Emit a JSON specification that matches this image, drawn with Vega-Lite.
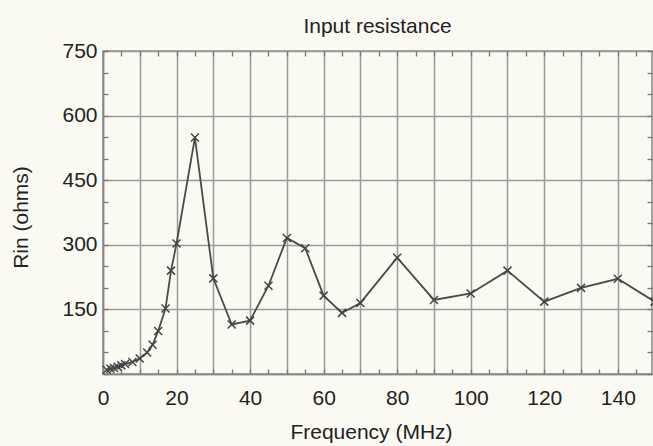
{
  "$schema": "https://vega.github.io/schema/vega-lite/v6.json",
  "width": 549,
  "height": 323,
  "autosize": {"type": "none"},
  "padding": {"left": 103, "top": 51, "right": 1, "bottom": 72},
  "background": "#fafaf2",
  "title": {"text": "Input resistance", "fontSize": 21, "font": "Liberation Sans", "fontWeight": "normal", "color": "#222222", "offset": 3, "dx": 0},
  "config": {
    "view": {"stroke": "#888888", "strokeWidth": 1.5},
    "axis": {"labelFont": "Liberation Sans", "titleFont": "Liberation Sans", "labelFontSize": 21, "titleFontSize": 21, "titleFontWeight": "normal", "labelColor": "#222222", "titleColor": "#222222", "domainColor": "#888888", "domainWidth": 1.5, "tickColor": "#777777", "tickWidth": 1.3}
  },
  "data": {"values": [
    {"f": 1, "r": 10}, {"f": 2, "r": 12}, {"f": 3, "r": 14}, {"f": 4, "r": 17}, {"f": 5, "r": 20},
    {"f": 6, "r": 23}, {"f": 8, "r": 28}, {"f": 10, "r": 36}, {"f": 12, "r": 50}, {"f": 13.5, "r": 68},
    {"f": 15, "r": 100}, {"f": 17, "r": 152}, {"f": 18.5, "r": 240}, {"f": 20, "r": 303}, {"f": 25, "r": 549},
    {"f": 30, "r": 222}, {"f": 35, "r": 115}, {"f": 40, "r": 124}, {"f": 45, "r": 205}, {"f": 50, "r": 316},
    {"f": 55, "r": 292}, {"f": 60, "r": 182}, {"f": 65, "r": 142}, {"f": 70, "r": 165}, {"f": 80, "r": 270},
    {"f": 90, "r": 172}, {"f": 100, "r": 187}, {"f": 110, "r": 240}, {"f": 120, "r": 168}, {"f": 130, "r": 200},
    {"f": 140, "r": 221}, {"f": 150, "r": 168}
  ]},
  "layer": [
    {
      "mark": {"type": "line", "color": "#4a4a4a", "strokeWidth": 1.8},
      "encoding": {
        "x": {"field": "f", "type": "quantitative", "scale": {"domain": [0, 149.3], "nice": false, "zero": false},
          "axis": {"orient": "bottom", "title": "Frequency (MHz)", "titlePadding": 13, "titleX": 268,
            "values": [0,5,10,15,20,25,30,35,40,45,50,55,60,65,70,75,80,85,90,95,100,105,110,115,120,125,130,135,140,145],
            "labelExpr": "datum.value % 20 === 0 ? datum.label : ''",
            "labelFlush": false,
            "tickSize": -5, "labelPadding": 18,
            "grid": true, "gridWidth": 1.5,
            "gridColor": {"condition": {"test": "datum.value % 10 === 0", "value": "#9a9a9a"}, "value": "transparent"}}},
        "y": {"field": "r", "type": "quantitative", "scale": {"domain": [0, 750], "nice": false},
          "axis": {"orient": "left", "title": "Rin (ohms)", "titlePadding": 30, "titleY": 166,
            "values": [0,50,100,150,200,250,300,350,400,450,500,550,600,650,700,750],
            "labelExpr": "datum.value % 150 === 0 && datum.value > 0 ? datum.label : ''",
            "labelFlush": false,
            "tickSize": -5, "labelPadding": 11,
            "grid": true, "gridWidth": 1.5,
            "gridColor": {"condition": {"test": "datum.value % 150 === 0", "value": "#9a9a9a"}, "value": "transparent"}}}
      }
    },
    {
      "mark": {"type": "point", "shape": "M-1,-1L1,1M-1,1L1,-1", "filled": false, "stroke": "#444444", "strokeWidth": 1.5, "size": 64, "opacity": 1},
      "encoding": {
        "x": {"field": "f", "type": "quantitative", "scale": {"domain": [0, 149.3], "nice": false, "zero": false},
          "axis": {"orient": "top", "title": null, "labels": false, "grid": false, "domain": false, "tickSize": -5,
            "values": [0,5,10,15,20,25,30,35,40,45,50,55,60,65,70,75,80,85,90,95,100,105,110,115,120,125,130,135,140,145]}},
        "y": {"field": "r", "type": "quantitative", "scale": {"domain": [0, 750], "nice": false},
          "axis": {"orient": "right", "title": null, "labels": false, "grid": false, "domain": false, "tickSize": -5,
            "values": [0,50,100,150,200,250,300,350,400,450,500,550,600,650,700,750]}}
      }
    }
  ],
  "resolve": {"axis": {"x": "independent", "y": "independent"}}
}
